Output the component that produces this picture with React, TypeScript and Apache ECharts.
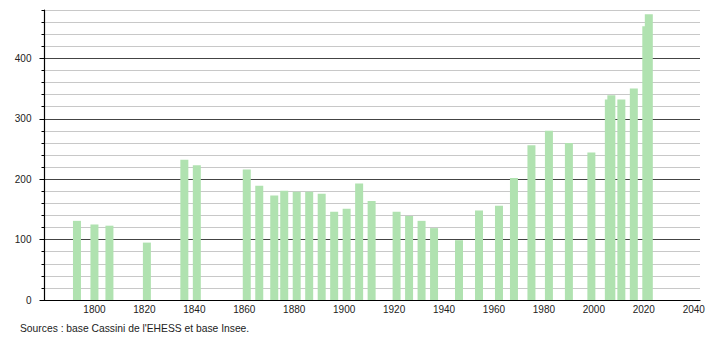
import React, { useEffect, useRef } from "react";
import * as echarts from "echarts";

const years = [1793, 1800, 1806, 1821, 1836, 1841, 1861, 1866, 1872, 1876, 1881, 1886, 1891, 1896, 1901, 1906, 1911, 1921, 1926, 1931, 1936, 1946, 1954, 1962, 1968, 1975, 1982, 1990, 1999, 2006, 2007, 2011, 2016, 2021, 2022];
const population = [131, 125, 123, 95, 232, 223, 216, 189, 173, 181, 179, 179, 176, 146, 151, 193, 164, 146, 139, 131, 119, 99, 148, 156, 202, 256, 280, 260, 244, 332, 339, 332, 350, 453, 473];
const xTickLabels = [1800, 1820, 1840, 1860, 1880, 1900, 1920, 1940, 1960, 1980, 2000, 2020, 2040];
const yTickLabels = [0, 100, 200, 300, 400];
const sourceText = "Sources : base Cassini de l'EHESS et base Insee.";

const FONT = "'Liberation Sans', Arial, sans-serif";

export default function App() {
  const ref = useRef<HTMLDivElement>(null);
  useEffect(() => {
    if (!ref.current) return;
    const chart = echarts.init(ref.current, null, { renderer: "svg" });
    chart.setOption({
      animation: false,
      textStyle: { fontFamily: FONT },
      grid: { left: 44.5, right: 10, top: 10, bottom: 40, containLabel: false },
      xAxis: {
        type: "value",
        min: 1780,
        max: 2042.5,
        interval: 20,
        axisLine: { show: true, lineStyle: { color: "#000", width: 1.2 } },
        axisTick: { show: false },
        splitLine: { show: false },
        axisLabel: {
          customValues: xTickLabels,
          formatter: (v: number) => String(v),
          color: "#222",
          fontSize: 10,
          fontFamily: FONT,
          margin: 4,
        },
      },
      yAxis: [
        {
          type: "value",
          min: 0,
          max: 480,
          interval: 20,
          position: "left",
          axisLine: { show: true, lineStyle: { color: "#000", width: 1.2 } },
          axisTick: { show: true, inside: false, length: 3, lineStyle: { color: "#000", width: 1 } },
          axisLabel: { show: false },
          splitLine: {
            show: true,
            lineStyle: { color: ["#444", "#c8c8c8", "#c8c8c8", "#c8c8c8", "#c8c8c8"], width: 1 },
          },
        },
        {
          type: "value",
          min: 0,
          max: 480,
          position: "left",
          offset: 0,
          alignTicks: false,
          axisLine: { show: false },
          axisTick: { show: true, length: 5, customValues: yTickLabels, lineStyle: { color: "#000" } },
          axisLabel: {
            customValues: yTickLabels,
            formatter: (v: number) => String(v),
            color: "#222",
            fontSize: 10,
            fontFamily: FONT,
            margin: 13,
          },
          splitLine: { show: false },
        },
      ],
      series: [
        {
          type: "bar",
          yAxisIndex: 0,
          barWidth: 8,
          itemStyle: { color: "#b0e2b0" },
          data: years.map((y, i) => [y, population[i]]),
        },
      ],
      graphic: [
        {
          type: "text",
          left: 20,
          top: 323,
          style: { text: sourceText, fontSize: 10.3, fontFamily: FONT, fill: "#222" },
        },
      ],
    });
    return () => chart.dispose();
  }, []);
  return <div ref={ref} style={{ width: 710, height: 340, position: "absolute", left: 0, top: 0 }} />;
}
